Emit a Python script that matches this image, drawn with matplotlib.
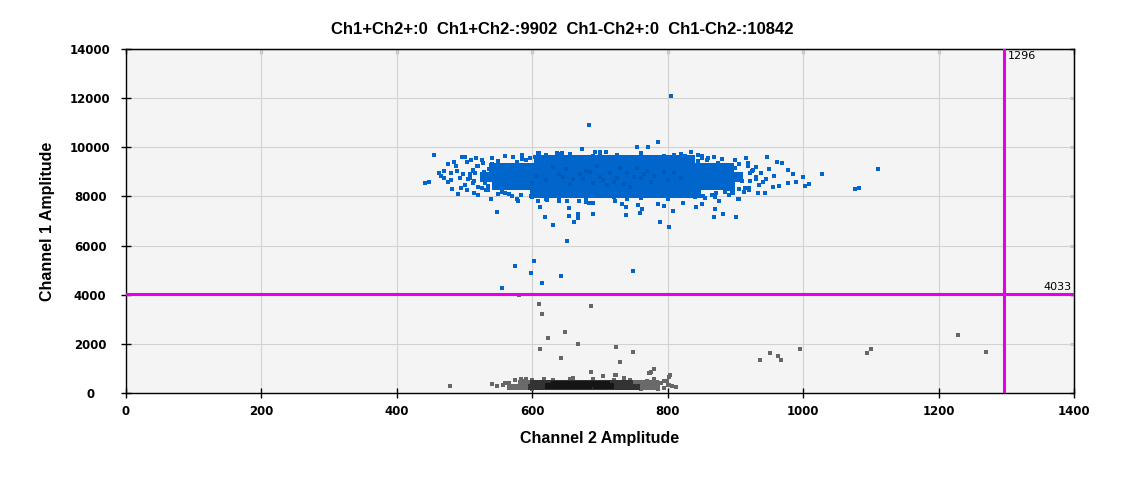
import matplotlib
matplotlib.use("Agg")
import matplotlib.pyplot as plt

# droplet amplitudes (x = Ch2, y = Ch1)
# sparse blue droplets (Ch1+Ch2-)
blue_x = [805, 684, 786, 771, 755, 674, 455, 441, 447, 1111, 1076, 1082, 1028, 1000, 1008, 1003, 969, 962, 977, 978, 965, 956, 946, 957, 943, 934,
          539, 548, 578, 612, 619, 631, 652, 654, 654, 668, 668, 662, 690, 690, 739, 739, 759, 762, 788, 802, 808, 842, 850, 870, 868, 882, 901, 904, 875,
          844, 835, 810, 692, 700, 709, 608, 637, 644,
          496, 500, 510, 517, 488, 489, 480, 480, 482, 495, 504, 514, 498, 493, 503,
          566, 579, 601, 609, 621, 640, 651, 669, 679, 684, 722, 732, 756, 786, 795, 823, 834, 855, 865, 896, 896, 905,
          555, 574, 602, 598, 614, 643, 748,
          560, 585, 620, 655, 690, 725, 760, 795, 830, 860, 880, 900, 540, 550, 527, 918, 930, 925, 938, 930, 940, 920, 912, 890,
          870, 840, 800, 760, 720, 680, 640, 600, 570, 550, 535, 520, 512, 505, 508, 513, 518, 525, 470, 465, 475, 470, 462, 485,
          475, 500, 490, 520, 915, 950, 985, 990,
          572, 585, 578, 868, 880, 874, 520, 512, 516, 918, 926, 921, 514, 508, 922, 930, 526, 531, 914, 920,
          583, 600, 866, 852, 610, 640, 700, 760, 820, 850, 620, 680, 740, 800, 560, 548, 895, 905, 935, 945,
          596, 604, 590, 850, 858, 845, 540, 546, 535, 530, 905, 900, 910, 896, 556, 566, 884, 890, 872, 598,
          826, 832, 628, 618, 610, 842, 536, 528, 902, 894]
blue_y = [12074, 10893, 10201, 9997, 9997, 9917, 9672, 8533, 8574, 9103, 8289, 8330, 8899, 8777, 8492, 8411, 9346, 9387, 9062, 8533, 8411, 8370, 9591, 8818, 8126, 8126,
          7882, 7353, 7882, 7556, 7149, 6824, 6173, 7516, 7190, 7272, 7109, 6960, 7720, 7272, 7583, 7231, 7312, 7475, 6946, 6743, 7394, 7556, 7678, 7475, 7149, 7272, 7149, 7882, 7801,
          9672, 9794, 9672, 9794, 9794, 9794, 9754, 9754, 9754,
          9591, 9591, 9469, 9550, 9225, 9021, 8940, 8655, 8289, 8330, 8248, 8126, 8899, 8737, 9387,
          8086, 7801, 8005, 7801, 7841, 7801, 7801, 7801, 7760, 7720, 7801, 7678, 7638, 7678, 7597, 7720, 8005, 7923, 8045, 8126, 8248, 7882,
          4268, 5163, 5366, 4878, 4472, 4756, 4959,
          9650, 9700, 9690, 9720, 9660, 9700, 9680, 9640, 9600, 9560, 9520, 9480, 9560, 9450, 9380, 9350, 9200, 9050, 8950, 8700, 8600, 8350, 8200, 8050,
          7990, 7960, 7950, 7940, 7960, 7950, 7930, 7960, 8000, 8100, 8250, 8400, 8550, 8700, 8900, 9050, 9250, 9480, 8750, 8850, 8600, 9050, 8950, 9400,
          9300, 8480, 8100, 8050, 9550, 9120, 8900, 8600,
          9600, 9540, 9420, 9600, 9530, 9380, 9230, 9080, 8960, 9240, 9060, 8950, 8640, 8760, 8640, 8780, 8360, 8260, 8360, 8250,
          8050, 8000, 8060, 8010, 9760, 9740, 9770, 9750, 9720, 9660, 7900, 7880, 7890, 7910, 8150, 8330, 8130, 8290, 8450, 8700,
          9560, 9620, 9480, 9580, 9500, 9440, 9320, 9200, 8420, 8560, 9320, 9160, 8640, 8440, 8180, 8080, 8200, 8300, 8120, 8030,
          9640, 9560, 8020, 8090, 8160, 8110, 9100, 8980, 8820, 9000]

# dense blue cluster body, by rows of Ch1 amplitude
blue_core_rows = [8150, 8480, 8810, 9140, 9470]
blue_core_cols = [
    [608, 630, 652, 674, 696, 718, 740, 762, 784, 806, 828, 838],
    [552, 574, 596, 618, 640, 662, 684, 706, 728, 750, 772, 794, 816, 838, 860, 882, 888],
    [534, 556, 578, 600, 622, 644, 666, 688, 710, 732, 754, 776, 798, 820, 842, 864, 886, 900],
    [548, 570, 592, 614, 636, 658, 680, 702, 724, 746, 768, 790, 812, 834, 856, 878, 886],
    [615, 637, 659, 681, 703, 725, 747, 769, 791, 813, 828],
]
# darker mottling in the centre of the blue cluster
blue_dark_x = [640, 660, 680, 700, 720, 740, 760, 780, 800, 690, 650, 730, 770, 710, 620, 810, 670, 750,
               605, 630, 655, 675, 695, 715, 735, 755, 775, 795, 645, 685, 725, 765, 600, 820, 705, 745]
blue_dark_y = [8900, 8700, 9050, 8800, 8600, 8950, 8750, 8850, 8650, 8550, 9100, 9150, 9050, 8450, 8650, 8950, 8900, 8800,
               8850, 9200, 8500, 8700, 9250, 8950, 8500, 9150, 8600, 9000, 8800, 9000, 8750, 8900, 8550, 8750, 8650, 8400]

# sparse gray droplets (Ch1-Ch2-)
gray_x = [478, 557, 566, 583, 581, 610, 614, 686, 649, 623, 667, 612, 723, 748, 643, 729, 686, 723, 705, 780,
          775, 773, 804, 802, 795, 807, 802, 617, 936, 951, 963, 967, 995, 1094, 1100, 1229, 1270, 704, 722, 774,
          803, 799,
          560, 570, 575, 590, 600, 630, 655, 690, 720, 745, 770, 790, 800, 795, 785, 760, 600, 565, 548, 540, 812, 780, 735, 660, 585]
gray_y = [285, 325, 407, 569, 3984, 3618, 3211, 3537, 2480, 2236, 1992, 1789, 1870, 1667, 1423, 1260, 854, 732, 691, 976,
          854, 813, 732, 650, 488, 285, 325, 569, 1341, 1626, 1504, 1341, 1789, 1626, 1789, 2358, 1667, 680, 720, 826,
          720, 475,
          420, 250, 530, 560, 180, 540, 560, 550, 540, 520, 500, 400, 330, 220, 170, 160, 520, 330, 280, 380, 260, 580, 600, 600, 480]

# dense gray cluster body
gray_body_rows = [420, 250]
gray_body_cols = [
    [588, 605, 622, 640, 657, 674, 692, 709, 726, 744, 761, 778],
    [572, 589, 606, 624, 641, 658, 676, 693, 710, 728, 745, 762, 780],
]
gray_mid_rows = [410, 260]
gray_mid_cols = [
    [606, 623, 640, 657, 674, 691, 708, 725, 740],
    [603, 620, 637, 654, 671, 688, 705, 722, 739, 750],
]
gray_dark_x = [628, 645, 662, 680, 698, 712, 636, 654, 672, 690, 706]
gray_dark_y = [300, 300, 300, 300, 300, 300, 380, 380, 380, 380, 380]

ch1_threshold = 4033
ch2_threshold = 1296
title = "Ch1+Ch2+:0  Ch1+Ch2-:9902  Ch1-Ch2+:0  Ch1-Ch2-:10842"

xticks = [0, 200, 400, 600, 800, 1000, 1200, 1400]
yticks = [0, 2000, 4000, 6000, 8000, 10000, 12000, 14000]

BLUE = "#0066cc"
MAGENTA = "#e600e6"
rect = [(-1, -0.62), (1, -0.62), (1, 0.62), (-1, 0.62)]
flat = [(-1, -0.5), (1, -0.5), (1, 0.5), (-1, 0.5)]

fig = plt.figure(figsize=(11.25, 4.78), dpi=100)
ax = fig.add_axes([126 / 1125, 1 - 393 / 478, 948 / 1125, 344 / 478])
ax.set_facecolor("#f4f4f4")

# gray cluster
ax.scatter(gray_x, gray_y, marker="s", s=5, c="#666666", linewidths=0, zorder=3)
for y, xs in zip(gray_body_rows, gray_body_cols):
    ax.scatter(xs, [y] * len(xs), marker=flat, s=75, c="#6a6a6a", linewidths=0, zorder=3)
for y, xs in zip(gray_mid_rows, gray_mid_cols):
    ax.scatter(xs, [y] * len(xs), marker=flat, s=75, c="#333333", linewidths=0, zorder=3)
ax.scatter(gray_dark_x, gray_dark_y, marker=flat, s=75, c="#151515", linewidths=0, zorder=3)

# blue cluster
ax.scatter(blue_x, blue_y, marker="s", s=5, c=BLUE, linewidths=0, zorder=3)
for y, xs in zip(blue_core_rows, blue_core_cols):
    ax.scatter(xs, [y] * len(xs), marker=rect, s=133, c=BLUE, linewidths=0, zorder=3)
ax.scatter(blue_dark_x, blue_dark_y, marker="s", s=12, c="#0058b2", alpha=0.8, linewidths=0, zorder=3)

# thresholds
ax.axhline(ch1_threshold, color=MAGENTA, lw=2.2, zorder=4)
ax.axvline(ch2_threshold, color=MAGENTA, lw=2.2, zorder=4)
ax.text(ch2_threshold + 6, 13900, str(ch2_threshold), fontsize=8, family="DejaVu Sans",
        ha="left", va="top", zorder=5)
ax.text(1397, ch1_threshold + 60, str(ch1_threshold), fontsize=8, family="DejaVu Sans",
        ha="right", va="bottom", zorder=5)

ax.set_xlim(0, 1400)
ax.set_ylim(0, 14000)
ax.set_xticks(xticks)
ax.set_yticks(yticks)
ax.grid(True, color="#d2d2d2", lw=0.8, zorder=0)
ax.set_axisbelow(True)
for sp in ax.spines.values():
    sp.set_linewidth(1.0)

ax.tick_params(direction="inout", length=7.5, width=1.0, labelsize=8.5)
ax.tick_params(axis="x", pad=5)
ax.tick_params(axis="y", pad=22)
for lab in ax.get_xticklabels() + ax.get_yticklabels():
    lab.set_fontweight("bold")
    lab.set_family("DejaVu Sans")
for lab in ax.get_yticklabels():
    lab.set_horizontalalignment("center")

secx = ax.secondary_xaxis("top")
secx.set_xticks(xticks)
secx.tick_params(direction="in", length=3.6, width=1.0, labeltop=False)
secy = ax.secondary_yaxis("right")
secy.set_yticks(yticks)
secy.tick_params(direction="in", length=3.2, width=1.0, labelright=False)

fig.text(0.5, 1 - 30 / 478, title, ha="center", va="center", fontsize=12,
         fontweight="bold", family="Liberation Sans")
fig.text(600 / 1125, 1 - 438 / 478, "Channel 2 Amplitude", ha="center", va="center",
         fontsize=11.5, fontweight="bold", family="Liberation Sans")
fig.text(48 / 1125, 1 - 221 / 478, "Channel 1 Amplitude", ha="center", va="center",
         rotation=90, fontsize=11.5, fontweight="bold", family="Liberation Sans")

fig.savefig("out.png", dpi=100)
